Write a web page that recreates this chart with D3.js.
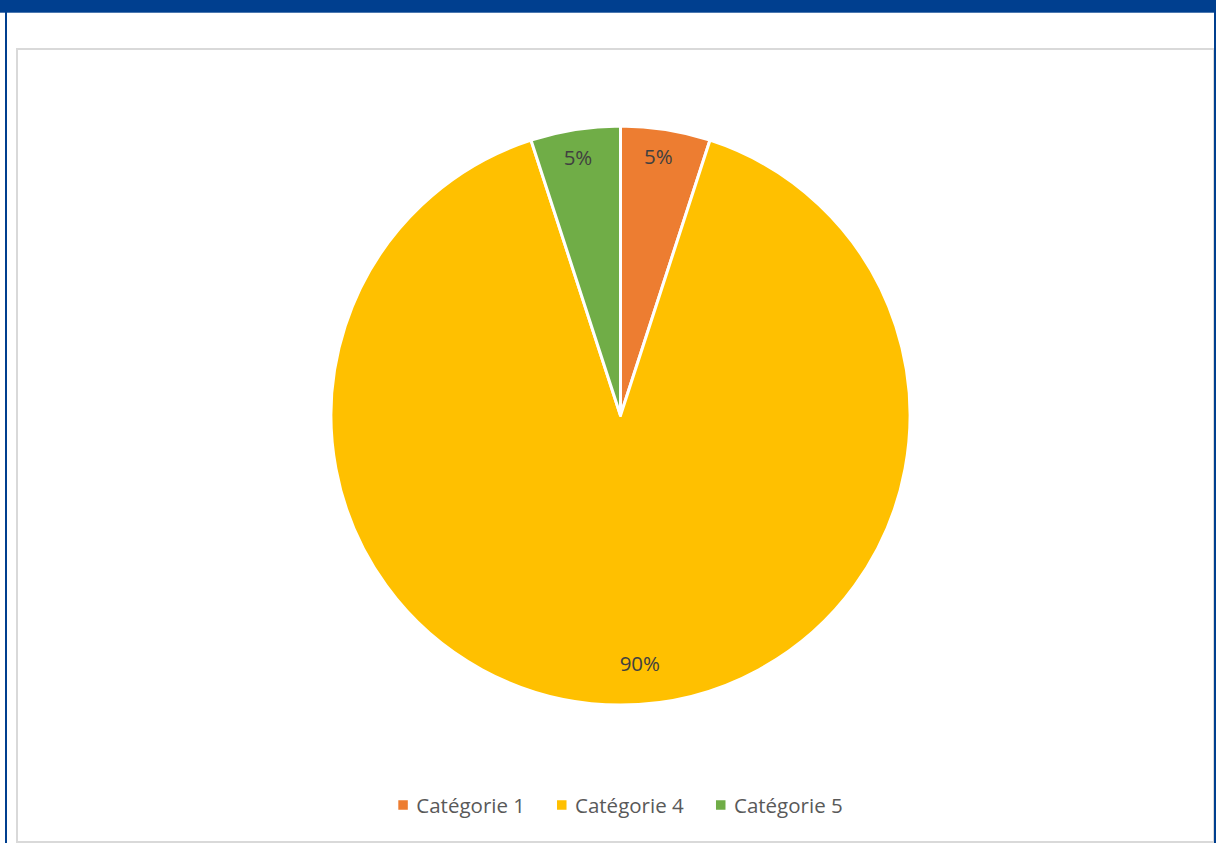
<!DOCTYPE html>
<html>
<head>
<meta charset="utf-8">
<script src="https://cdn.jsdelivr.net/npm/d3@7/dist/d3.min.js"></script>
<style>
  html, body { margin: 0; padding: 0; background: #fff; }
  svg { display: block; }
</style>
</head>
<body>
<svg id="chart" width="1221" height="843"></svg>
<script>
// Share of each category (percent)
const categories = ["Catégorie 1", "Catégorie 4", "Catégorie 5"];
const values = [5, 90, 5];
const colors = ["#ED7D31", "#FFC000", "#70AD47"];

const W = 1221, H = 843;
const svg = d3.select("#chart");
const font = "'Open Sans', 'Noto Sans', sans-serif";
const fontSize = 20.5;

// Frame: dark blue header band with side rules, light grey chart area border
svg.append("rect").attr("x", 0).attr("y", 0).attr("width", W).attr("height", H).attr("fill", "#fff");
svg.append("rect").attr("x", 17).attr("y", 49).attr("width", 1197).attr("height", 793)
  .attr("fill", "#fff").attr("stroke", "#d9d9d9").attr("stroke-width", 2);
svg.append("rect").attr("x", 0).attr("y", 0).attr("width", 1216).attr("height", 12.7).attr("fill", "#003f8f");
svg.append("rect").attr("x", 5).attr("y", 0).attr("width", 2).attr("height", H).attr("fill", "#003f8f");
svg.append("rect").attr("x", 1214).attr("y", 0).attr("width", 2).attr("height", H).attr("fill", "#003f8f");

// Pie
const cx = 620.5, cy = 415.5, R = 289.5;
const data = categories.map((c, i) => ({ category: c, value: values[i], color: colors[i] }));
const pie = d3.pie().value(d => d.value).sort(null);
const arcs = pie(data);
const arc = d3.arc().innerRadius(0).outerRadius(R);

const g = svg.append("g").attr("transform", `translate(${cx},${cy})`);
g.selectAll("path.slice").data(arcs).join("path")
  .attr("class", "slice")
  .attr("d", arc)
  .attr("fill", d => d.data.color)
  .attr("stroke", "#fff")
  .attr("stroke-width", 3)
  .attr("stroke-linejoin", "round");

// Data labels placed toward the outer edge of each slice
const fmt = d3.format(".0%");
const total = d3.sum(values);
const labelRadius = d => d.data.value > 50 ? 248 : 262;
const labelShift = d => d.data.value > 50 ? 0.078 : (d.index === 0 ? 0.012 : 0.006);
g.selectAll("text.lbl").data(arcs).join("text")
  .attr("class", "lbl")
  .attr("transform", d => {
    const a = (d.startAngle + d.endAngle) / 2 - labelShift(d);
    const r = labelRadius(d);
    return `translate(${r * Math.sin(a)},${-r * Math.cos(a)})`;
  })
  .attr("text-anchor", "middle")
  .attr("dominant-baseline", "central")
  .attr("font-family", font)
  .attr("font-size", fontSize)
  .attr("fill", "#404040")
  .text(d => fmt(d.data.value / total));

// Legend
const legendY = 805;
const legend = svg.append("g");
const items = legend.selectAll("g").data(data).join("g");
items.append("rect").attr("width", 9.5).attr("height", 9.5).attr("y", -4.75).attr("fill", d => d.color);
items.append("text").attr("x", 18).attr("dominant-baseline", "central")
  .attr("font-family", font).attr("font-size", fontSize).attr("fill", "#595959")
  .text(d => d.category);
// lay out items horizontally, centred under the pie
const gap = 32;
const widths = items.nodes().map(n => n.getBBox().width);
const totalW = d3.sum(widths) + gap * (widths.length - 1);
let x = cx - totalW / 2;
items.attr("transform", (d, i) => {
  const t = `translate(${x},${legendY})`;
  x += widths[i] + gap;
  return t;
});
</script>
</body>
</html>
